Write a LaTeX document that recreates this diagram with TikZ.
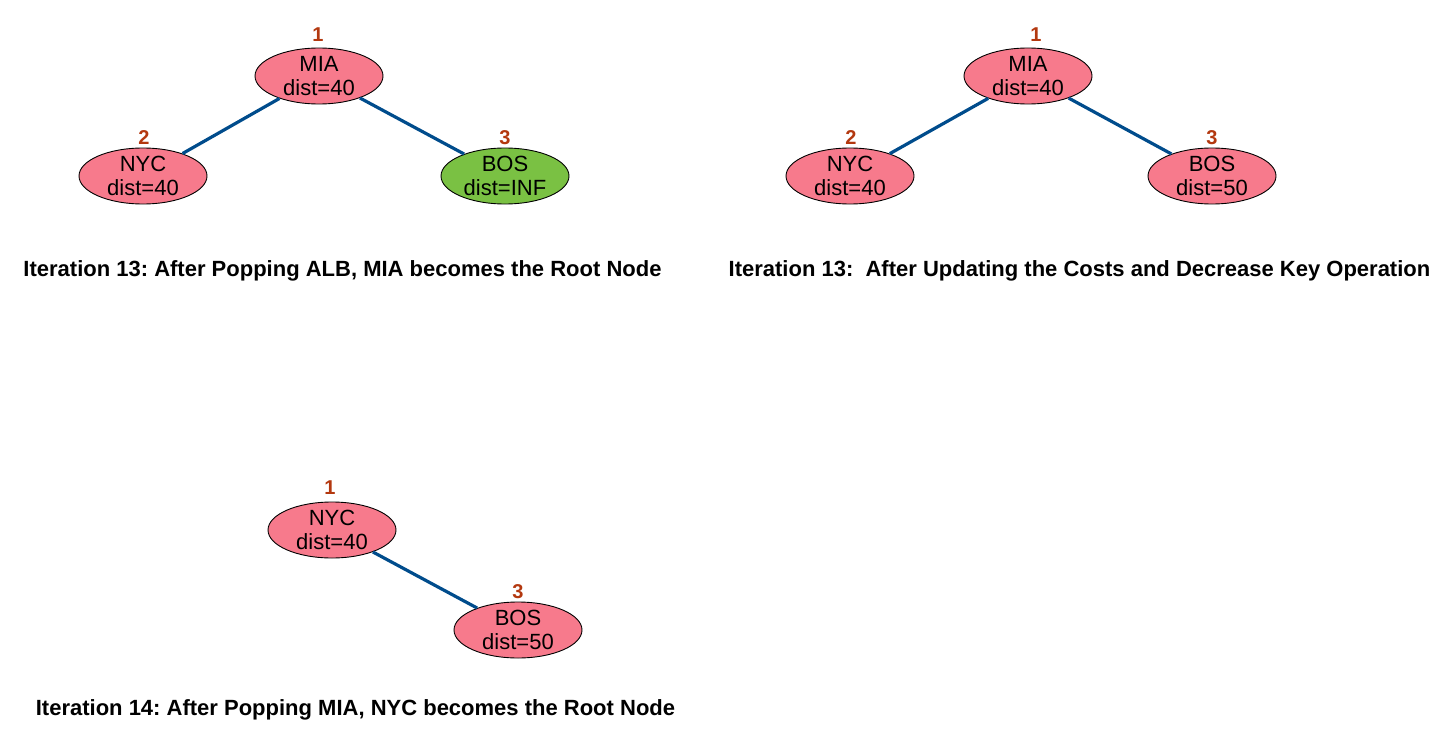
\documentclass[tikz,border=0pt]{standalone}
\usepackage{fontspec}
\setmainfont{Liberation Sans}
\usetikzlibrary{shapes.geometric}
\frenchspacing
\definecolor{heappink}{HTML}{F77A8C}
\definecolor{heapgreen}{HTML}{7AC143}
\definecolor{edgeblue}{HTML}{004C8C}
\definecolor{idxred}{HTML}{B3380F}
\tikzset{
  heapnode/.style={ellipse,draw=black,line width=0.9pt,fill=heappink,minimum width=128pt,minimum height=56pt,inner sep=0pt},
  greennode/.style={heapnode,fill=heapgreen},
  nodetext/.style={align=center,inner sep=0pt,font=\fontsize{22}{23.5}\selectfont},
  idx/.style={text=idxred,inner sep=0pt,font=\fontsize{20}{20}\selectfont\bfseries},
  heapedge/.style={draw=edgeblue,line width=3.2pt},
  caption/.style={inner sep=0pt,font=\fontsize{22}{24}\selectfont\bfseries}
}
\begin{document}
\begin{tikzpicture}[x=1pt,y=-1pt]
\useasboundingbox (0,0) rectangle (1455,741);
% Panel 1
\node[heapnode] (mia1) at (319,76) {};
\node[heapnode] (nyc1) at (143,176) {};
\node[greennode] (bos1) at (505,176) {};
\draw[heapedge] (mia1) -- (nyc1);
\draw[heapedge] (mia1) -- (bos1);
\node[nodetext] (mia1t) at (mia1) {MIA\\dist=40};
\node[nodetext] (nyc1t) at (nyc1) {NYC\\dist=40};
\node[nodetext] (bos1t) at (bos1) {BOS\\dist=INF};
\node[idx] (mia1i) at (318,35) {1};
\node[idx] (nyc1i) at (144,138) {2};
\node[idx] (bos1i) at (505,138) {3};
\node[caption] (cap1) at (342.5,271) {Iteration 13: After Popping ALB, MIA becomes the Root Node};
% Panel 2
\node[heapnode] (mia2) at (1028,76) {};
\node[heapnode] (nyc2) at (850,176) {};
\node[heapnode] (bos2) at (1212,176) {};
\draw[heapedge] (mia2) -- (nyc2);
\draw[heapedge] (mia2) -- (bos2);
\node[nodetext] (mia2t) at (mia2) {MIA\\dist=40};
\node[nodetext] (nyc2t) at (nyc2) {NYC\\dist=40};
\node[nodetext] (bos2t) at (bos2) {BOS\\dist=50};
\node[idx] (mia2i) at (1036,35) {1};
\node[idx] (nyc2i) at (851,138) {2};
\node[idx] (bos2i) at (1212,138) {3};
\node[caption] (cap2) at (1079.5,271) {Iteration 13:\ \ After Updating the Costs and Decrease Key Operation};
% Panel 3
\node[heapnode] (nyc3) at (332,530) {};
\node[heapnode] (bos3) at (518,630) {};
\draw[heapedge] (nyc3) -- (bos3);
\node[nodetext] (nyc3t) at (nyc3) {NYC\\dist=40};
\node[nodetext] (bos3t) at (bos3) {BOS\\dist=50};
\node[idx] (nyc3i) at (330,488) {1};
\node[idx] (bos3i) at (518,592) {3};
\node[caption] (cap3) at (355.5,710) {Iteration 14: After Popping MIA, NYC becomes the Root Node};
\end{tikzpicture}
\end{document}
